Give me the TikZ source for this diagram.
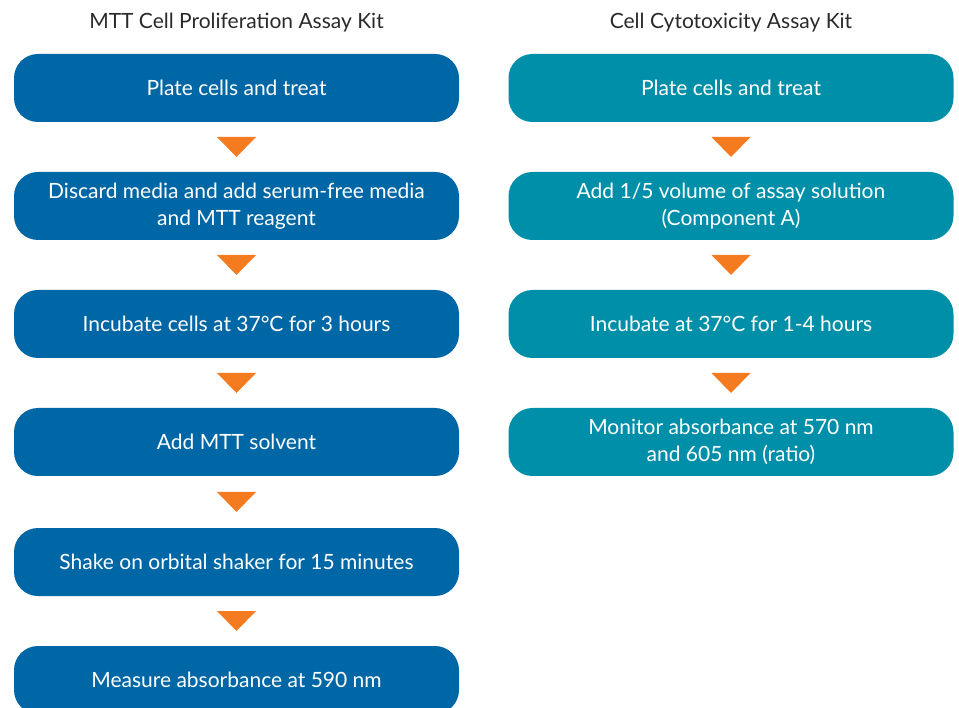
\documentclass[tikz,border=0pt]{standalone}
\usepackage{fontspec}
\setmainfont{Lato}
\definecolor{mttblue}{HTML}{0067A6}
\definecolor{cyteal}{HTML}{008FA8}
\definecolor{arroworange}{HTML}{F47B20}
\definecolor{titlegray}{HTML}{2A2A2A}
\begin{document}
\begin{tikzpicture}[x=1pt,y=-1pt,
  stepbox/.style={rounded corners=24pt, minimum width=445pt, minimum height=68pt,
    inner sep=0pt, text=white, align=center, font=\fontsize{21}{27}\selectfont},
  mttbox/.style={stepbox, fill=mttblue},
  cytbox/.style={stepbox, fill=cyteal},
  titletext/.style={text=titlegray, font=\fontsize{21}{24}\selectfont},
  tri/.style={fill=arroworange}]
\useasboundingbox (0,0) rectangle (959,708);
\clip (0,0) rectangle (959,708);
\node[titletext] (t1) at (236.5,23) {MTT Cell Proliferation Assay Kit};
\node[titletext] (t2) at (731,23) {Cell Cytotoxicity Assay Kit};
% left column
\node[mttbox] (a1) at (236.5,88) {Plate cells and treat};
\node[mttbox] (a2) at (236.5,206) {Discard media and add serum-free media\\and MTT reagent};
\node[mttbox] (a3) at (236.5,324) {Incubate cells at 37°C for 3 hours};
\node[mttbox] (a4) at (236.5,442) {Add MTT solvent};
\node[mttbox] (a5) at (236.5,562) {Shake on orbital shaker for 15 minutes};
\node[mttbox] (a6) at (236.5,680) {Measure absorbance at 590 nm};
% right column
\node[cytbox] (b1) at (731,88) {Plate cells and treat};
\node[cytbox] (b2) at (731,206) {Add 1/5 volume of assay solution\\(Component A)};
\node[cytbox] (b3) at (731,324) {Incubate at 37°C for 1-4 hours};
\node[cytbox] (b4) at (731,442) {Monitor absorbance at 570 nm\\and 605 nm (ratio)};
% arrows
\foreach \u/\v in {a1/a2,a2/a3,a3/a4,a4/a5,a5/a6,b1/b2,b2/b3,b3/b4}{
  \path (\u.south) -- (\v.north) coordinate[midway] (m);
  \fill[tri] ([xshift=-19.5pt,yshift=10pt]m) -- ([xshift=19.5pt,yshift=10pt]m) -- ([yshift=-10pt]m) -- cycle;
}
\end{tikzpicture}
\end{document}
